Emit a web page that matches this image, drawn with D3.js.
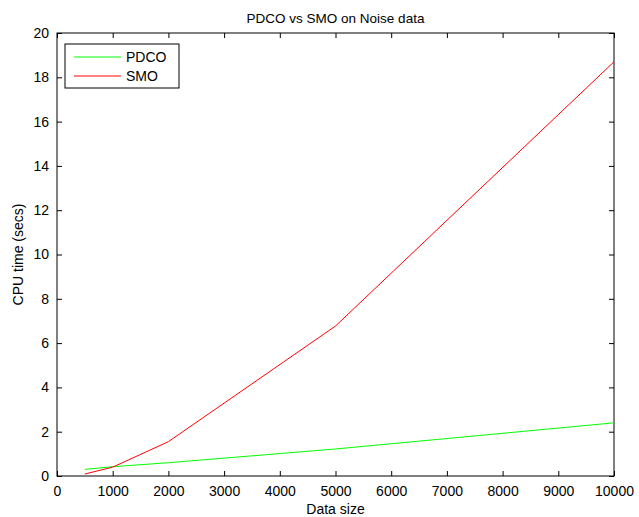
<!DOCTYPE html>
<html>
<head>
<meta charset="utf-8">
<script src="https://cdn.jsdelivr.net/npm/d3@7"></script>
<style>
  body { margin: 0; background: #fff; }
  text { font-family: "Liberation Sans", Arial, sans-serif; }
</style>
</head>
<body>
<div id="chart"></div>
<script>
const sizes = [500, 1000, 2000, 5000, 10000]
const pdco = [0.3, 0.42, 0.6, 1.22, 2.4]
const smo = [0.09, 0.4, 1.55, 6.77, 18.7]
const xTicks = d3.range(0, 10001, 1000)
const yTicks = d3.range(0, 21, 2)

const width = 639, height = 517
const margin = { top: 33, right: 25, bottom: 41, left: 57 }
const iw = width - margin.left - margin.right
const ih = height - margin.top - margin.bottom

const svg = d3.select('#chart')
  .append('svg')
  .attr('width', width)
  .attr('height', height)

const g = svg.append('g')
  .attr('transform', `translate(${margin.left},${margin.top})`)

const x = d3.scaleLinear().domain([0, 10000]).range([0, iw])
const y = d3.scaleLinear().domain([0, 20]).range([ih, 0])

// axes, ticks pointing inward, mirrored on top/right
const styleAxis = (sel) => {
  sel.select('.domain').remove()
  sel.selectAll('line').attr('stroke', '#000')
  sel.selectAll('text').attr('font-size', 14).attr('fill', '#000')
}

g.append('g')
  .attr('transform', `translate(0,${ih})`)
  .call(d3.axisBottom(x).tickValues(xTicks).tickSize(-5).tickPadding(10).tickFormat(d3.format('d')))
  .call(styleAxis)

g.append('g')
  .call(d3.axisLeft(y).tickValues(yTicks).tickSize(-5).tickPadding(8))
  .call(styleAxis)

g.append('g')
  .call(d3.axisTop(x).tickValues(xTicks).tickSize(-5).tickFormat(''))
  .call(styleAxis)

g.append('g')
  .attr('transform', `translate(${iw},0)`)
  .call(d3.axisRight(y).tickValues(yTicks).tickSize(-5).tickFormat(''))
  .call(styleAxis)

g.append('rect')
  .attr('width', iw)
  .attr('height', ih)
  .attr('fill', 'none')
  .attr('stroke', '#000')
  .attr('stroke-width', 1)

const line = d3.line()
  .x((d, i) => x(sizes[i]))
  .y(d => y(d))

g.append('path')
  .datum(pdco)
  .attr('d', line)
  .attr('fill', 'none')
  .attr('stroke', '#00ff00')
  .attr('stroke-width', 1)

g.append('path')
  .datum(smo)
  .attr('d', line)
  .attr('fill', 'none')
  .attr('stroke', '#ff0000')
  .attr('stroke-width', 1)

// legend
const legend = svg.append('g').attr('transform', 'translate(65,44)')
legend.append('rect')
  .attr('width', 114)
  .attr('height', 44)
  .attr('fill', '#fff')
  .attr('stroke', '#000')

const items = [['PDCO', '#00ff00'], ['SMO', '#ff0000']]
items.forEach(([name, color], i) => {
  const yy = 13 + i * 19
  legend.append('line')
    .attr('x1', 9).attr('x2', 56)
    .attr('y1', yy).attr('y2', yy)
    .attr('stroke', color)
  legend.append('text')
    .attr('x', 61).attr('y', yy + 5)
    .attr('font-size', 14)
    .text(name)
})

svg.append('text')
  .attr('x', margin.left + iw / 2)
  .attr('y', 23)
  .attr('text-anchor', 'middle')
  .attr('font-size', 13.5)
  .text('PDCO vs SMO on Noise data')

svg.append('text')
  .attr('x', margin.left + iw / 2)
  .attr('y', 514)
  .attr('text-anchor', 'middle')
  .attr('font-size', 14)
  .text('Data size')

svg.append('text')
  .attr('transform', `translate(23,${margin.top + ih / 2}) rotate(-90)`)
  .attr('text-anchor', 'middle')
  .attr('font-size', 14)
  .text('CPU time (secs)')
</script>
</body>
</html>
